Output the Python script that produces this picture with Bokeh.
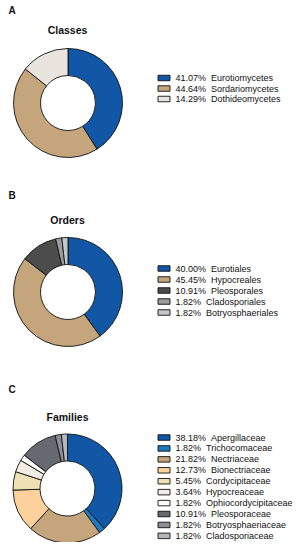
import math
from bokeh.plotting import figure
from bokeh.models import Range1d, ColumnDataSource
from bokeh.core.properties import value
from bokeh.embed import file_html
from bokeh.resources import INLINE

# ---------------- data ----------------
class_labels = ["Eurotiomycetes", "Sordariomycetes", "Dothideomycetes"]
class_values = [41.07, 44.64, 14.29]
class_colors = ["#1256a6", "#c4a57c", "#e9e5de"]

order_labels = ["Eurotiales", "Hypocreales", "Pleosporales", "Cladosporiales", "Botryosphaeriales"]
order_values = [40.00, 45.45, 10.91, 1.82, 1.82]
order_colors = ["#1256a6", "#c4a57c", "#4b4c4b", "#9c9c9c", "#c3c8ce"]

family_labels = ["Apergillaceae", "Trichocomaceae", "Nectriaceae", "Bionectriaceae",
                 "Cordycipitaceae", "Hypocreaceae", "Ophiocordycipitaceae",
                 "Pleosporaceae", "Botryosphaeriaceae", "Cladosporiaceae"]
family_values = [38.18, 1.82, 21.82, 12.73, 5.45, 3.64, 1.82, 10.91, 1.82, 1.82]
family_colors = ["#1256a6", "#1f7bc1", "#c4a57c", "#fcd19c", "#eee1b6", "#f1ede2",
                 "#fbfbf7", "#666a70", "#8b8f95", "#b2b8be"]

panel_letters = ["A", "B", "C"]
panel_titles = ["Classes", "Orders", "Families"]

# ---------------- layout ----------------
W, H = 292, 542
FONT = "Liberation Sans"

def X(px):
    return px

def Y(py):
    return H - py

p = figure(width=W, height=H, output_backend="svg", toolbar_location=None,
           x_range=Range1d(0, W), y_range=Range1d(0, H), min_border=0)
p.axis.visible = False
p.grid.visible = False
p.outline_line_color = None
p.background_fill_color = "white"
p.border_fill_color = "white"

panels = [
    dict(labels=class_labels, values=class_values, colors=class_colors,
         letter_y=10, title_y=29, cx=67.5, cy=102.5, leg_y=77.5, leg_dy=10.5),
    dict(labels=order_labels, values=order_values, colors=order_colors,
         letter_y=195, title_y=219, cx=67.5, cy=291.5, leg_y=268, leg_dy=11),
    dict(labels=family_labels, values=family_values, colors=family_colors,
         letter_y=389, title_y=416, cx=67, cy=488, leg_y=437, leg_dy=10.93),
]

R_OUT, R_IN = 54.5, 27.5
GAP = "\u00a0\u00a0"

for i, pn in enumerate(panels):
    vals = pn["values"]
    total = sum(vals)
    starts, ends = [], []
    cum = 0.0
    for v in vals:
        starts.append(math.pi / 2 - 2 * math.pi * cum / total)
        cum += v
        ends.append(math.pi / 2 - 2 * math.pi * cum / total)
    n = len(vals)
    src = ColumnDataSource(dict(
        x=[X(pn["cx"])] * n, y=[Y(pn["cy"])] * n,
        start=starts, end=ends, color=pn["colors"]))
    p.annular_wedge(x="x", y="y", inner_radius=R_IN, outer_radius=R_OUT,
                    start_angle="start", end_angle="end", direction="clock",
                    fill_color="color", line_color="#111111", line_width=0.9,
                    source=src)

    # panel letter
    p.text(x=[X(8)], y=[Y(pn["letter_y"])], text=[panel_letters[i]],
           text_font=value(FONT), text_font_size=value("10px"),
           text_font_style="bold", text_baseline="middle", text_align="left",
           text_color="#111111")
    # title
    p.text(x=[X(67)], y=[Y(pn["title_y"])], text=[panel_titles[i]],
           text_font=value(FONT), text_font_size=value("10.5px"),
           text_font_style="bold", text_baseline="middle", text_align="center",
           text_color="#111111")

    # legend
    ys = [Y(pn["leg_y"] + k * pn["leg_dy"]) for k in range(n)]
    texts = ["%.2f%%%s%s" % (v, GAP, lab) for v, lab in zip(vals, pn["labels"])]
    lsrc = ColumnDataSource(dict(x=[X(163.5)] * n, y=ys, color=pn["colors"],
                                 tx=[X(175)] * n, text=texts))
    p.rect(x="x", y="y", width=12, height=5.5, fill_color="color",
           line_color="#111111", line_width=0.9, source=lsrc)
    p.text(x="tx", y="y", text="text", source=lsrc,
           text_font=value(FONT), text_font_size=value("9px"),
           text_baseline="middle", text_align="left", text_color="#111111")

open("out.html", "w").write(file_html(p, INLINE))
